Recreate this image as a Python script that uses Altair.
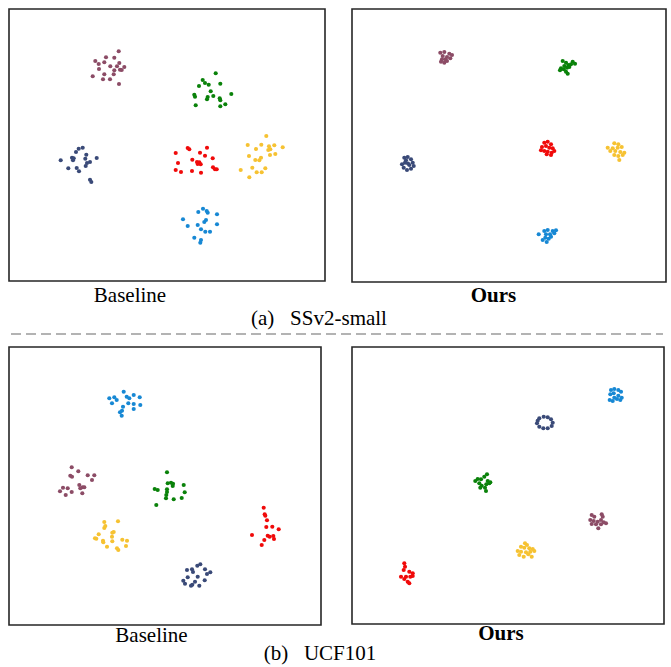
import altair as alt
import pandas as pd

# ---------------- data (t-SNE style embeddings) ----------------
CLASSES = ["class 1", "class 2", "class 3", "class 4", "class 5", "class 6"]
COLORS = ["#8c4c66", "#0a820a", "#3a4a78", "#f00a0a", "#f6c232", "#1788d4"]

panel_titles = ["Baseline", "Ours", "Baseline", "Ours"]
captions = ["(a)\u00a0\u00a0\u00a0SSv2-small", "(b)\u00a0\u00a0\u00a0UCF101"]

ssv2_baseline = {
    "class 1": [(117.7, 50.3), (105, 56.3), (113.3, 56.7), (94.3, 60), (97.7, 63), (103.3, 61.3),
                (118.3, 62), (109.3, 65.3), (116, 65.3), (123.3, 66), (98, 68), (113.3, 69.3),
                (119, 68.7), (120.7, 69), (103.3, 73.3), (112.7, 73.3), (91.7, 75.3), (102, 78.3),
                (109, 78.3), (118, 83)],
    "class 2": [(214.7, 72.3), (201.7, 79), (204, 82), (207.7, 83.7), (219.3, 82.7), (198, 85),
                (209.7, 90.3), (193.3, 93.7), (194, 95.7), (206.7, 96), (212.3, 95), (206, 98.3),
                (218.7, 97.3), (219.3, 99.3), (230.3, 93), (194.7, 104.3), (224.3, 103.3), (219.3, 105.3)],
    "class 3": [(81.7, 146.7), (77.7, 147.7), (75, 151), (85.3, 153.7), (71, 156.7), (72.7, 157.3),
                (95.7, 157), (59.7, 159.3), (72, 159.3), (84.3, 157.7), (89, 161), (86, 162),
                (67.3, 167.3), (75.7, 167), (84.7, 165), (78, 170.3), (89, 178.7), (90.3, 181)],
    "class 4": [(186.7, 147), (188.3, 148.3), (206, 146.7), (174.7, 152), (199, 151.7), (204, 154.7),
                (191.3, 158.7), (196, 161), (198.3, 161.3), (211.7, 157.3), (177, 162), (196.7, 163),
                (199.7, 163.3), (174.7, 169), (180, 171), (191, 170), (200, 171.7), (212, 166.3),
                (214, 168.3), (215.7, 168.3)],
    "class 5": [(265.3, 135), (246.7, 144), (260.3, 143.7), (268, 145.3), (273.3, 144.3), (281.7, 146.3),
                (255, 148), (267.3, 149), (269.3, 148.3), (248, 155), (254.3, 159), (260, 156.7),
                (258.3, 159.3), (269, 154), (274.3, 153), (239.7, 169), (251.3, 166.7), (264.3, 167.3),
                (255.7, 171.3), (260.7, 171.3), (248.3, 176.3)],
    "class 6": [(197.3, 211), (202, 207.7), (205.7, 210), (206.7, 211.7), (216, 213.3), (182, 218.3),
                (205, 219), (203.3, 221), (186.7, 225), (196.7, 224), (216, 223.3), (200, 228.3),
                (204.3, 230.7), (209, 230.7), (193.3, 236.7), (200, 239), (199.3, 241.7)],
}

ssv2_ours = {
    "class 1": [(439.3, 51.7), (443.3, 51), (448.3, 52.7), (451, 54), (441.7, 55), (446, 56),
                (441, 58.3), (444.3, 58.3), (449.3, 57.3), (440, 60.7), (443.3, 61.7), (446, 60)],
    "class 2": [(561.7, 60), (565, 61.7), (571.7, 60.7), (574, 62.7), (563.3, 65), (567.3, 64),
                (570, 63.3), (560, 67.3), (562.7, 68.3), (566, 66.7), (568.3, 66), (565, 70.7),
                (566.7, 72.7), (559, 69.3)],
    "class 3": [(403.3, 156.7), (406.7, 156), (410, 158.3), (411.7, 161.7), (412.7, 165), (410, 167.7),
                (406, 169), (402.7, 166.7), (401, 163.3), (404, 161.7), (408.3, 164), (405, 159.3),
                (407, 162.5)],
    "class 4": [(543.3, 141.7), (546.7, 140.7), (550, 143.3), (541, 146), (545, 145), (548.3, 146.7),
                (551.7, 147.3), (540, 149.3), (543.3, 150), (546.7, 150.7), (550.7, 151.7), (553.3, 150),
                (545.7, 153.3), (550, 154)],
    "class 5": [(613.3, 142.3), (617.3, 143.3), (606.7, 146.7), (611.7, 147.3), (616.7, 146.7),
                (620.7, 146), (609.3, 150), (614.3, 150), (619.3, 151), (623.3, 151.7), (613.3, 154),
                (617.3, 155), (621.7, 154), (618.3, 159)],
    "class 6": [(537.7, 233.3), (543.3, 230), (546.7, 229), (551.7, 230), (555, 229.3), (545, 233.3),
                (549, 233.3), (553.3, 232.3), (544.3, 236.7), (547.7, 237.7), (541.7, 239), (545.7, 241),
                (550, 235.7)],
}

ucf_baseline = {
    "class 6": [(122.7, 391.7), (108.3, 398.3), (113.3, 397.3), (115.7, 400), (111, 403.3), (125.7, 396.7),
                (128.3, 398.3), (132.7, 395), (138.7, 397.3), (127.3, 403.3), (132.7, 404), (139.3, 405),
                (122, 406.7), (132.7, 409), (121, 410.7), (119, 412.3), (120.7, 415.7)],
    "class 1": [(70.7, 467.3), (77.3, 471.3), (69.3, 475.7), (71, 476.7), (86.7, 475.3), (93.3, 475.3),
                (91, 480), (78.3, 485), (81.7, 487.3), (83.3, 487.3), (62, 487.7), (66.7, 488.3),
                (79.3, 488.3), (59, 491.3), (70.7, 492), (81.3, 493.3), (64.7, 495)],
    "class 2": [(166, 472.3), (166.7, 483.3), (170, 482.7), (172, 483.7), (171.7, 486), (182.7, 485),
                (153.7, 489), (156.7, 490), (166, 489.3), (166, 492), (165.3, 495), (183.7, 492.3),
                (165, 498.3), (172.7, 499.3), (180.7, 498), (155.3, 505)],
    "class 4": [(262.7, 507.7), (263.7, 514.3), (264.3, 515.7), (266, 520.3), (265.3, 527), (271.3, 526.7),
                (277.7, 529.3), (251, 535), (266.7, 535.7), (268.7, 536.7), (272.3, 536), (273, 539),
                (263.3, 540), (260.7, 545)],
    "class 5": [(117, 521.3), (103.3, 522), (104.3, 526), (103.3, 528), (112.7, 532), (111.3, 532.7),
                (97.7, 534.3), (94, 538.3), (95.3, 538.7), (111, 536.7), (102, 540.7), (102.3, 542.3),
                (111.3, 541.3), (121.3, 539.7), (126, 540.7), (106, 546.7), (116, 548.3), (117.3, 550),
                (125, 546)],
    "class 3": [(199.3, 564.3), (196.3, 565.7), (204, 569.3), (186, 570), (191, 569.3), (192, 572),
                (209.3, 572.3), (206, 574), (186.7, 577.3), (196.7, 576.7), (182.3, 580.7), (194, 581.7),
                (203.7, 580.3), (184, 583.7), (190, 585.7), (191.3, 584.7), (198.3, 585.7)],
}

ucf_ours = {
    "class 6": [(610, 390), (613.3, 389), (617.3, 390), (620, 391.7), (609.3, 394.3), (612.7, 393.3),
                (617.3, 395.7), (620.7, 397.7), (608.7, 400), (611.7, 401), (616, 399), (619.3, 400),
                (613.3, 397.7)],
    "class 3": [(538.3, 418.3), (542.7, 416.7), (546.7, 417.3), (550, 419.3), (551.7, 422.7), (550.7, 426),
                (546.7, 428.3), (542.3, 428.3), (538.3, 426.7), (536, 423.3), (536.7, 420.7)],
    "class 2": [(486, 474.3), (483.3, 476.7), (476.7, 479), (480, 479.3), (474.3, 481), (478.3, 483.3),
                (486.7, 481), (489.3, 482.3), (485.3, 484.3), (480.7, 485.7), (479.3, 487.7), (484, 487.7),
                (485, 491), (488.3, 483.3)],
    "class 1": [(590.7, 515), (593.3, 516.7), (600.7, 514.3), (601.7, 516.7), (589.3, 520), (592.7, 521),
                (596.7, 521.7), (600, 520), (602.7, 522.3), (605, 523.3), (590.7, 524), (595, 524.3),
                (600, 524.3), (597.3, 528.3)],
    "class 5": [(524, 543.3), (526, 545), (520, 546.7), (523.3, 547.7), (528.3, 548.3), (531.7, 549),
                (516.7, 551), (520, 551.7), (525, 552.3), (529.3, 551.7), (533.3, 551), (518.3, 555),
                (522.7, 556.7), (530.7, 556.7), (527.3, 554.3)],
    "class 4": [(403.3, 563.3), (404, 566.7), (402.7, 570), (408.3, 571.7), (411.7, 573.3), (400, 576.7),
                (405, 576.7), (409.3, 576.7), (411.7, 576), (403.3, 579), (406.7, 581.7), (408.3, 583.3)],
}

# embedding extents of each panel (x range, y range)
extents = [
    ((8, 324), (8, 280)),
    ((351, 665), (8, 281)),
    ((8, 320), (347, 625)),
    ((351, 663), (347, 624)),
]

FONT = "Liberation Serif"


def label(text, x, y, bold=False):
    df = pd.DataFrame({"t": [text]})
    return alt.Chart(df).mark_text(
        font=FONT, fontSize=21, color="black", align="center", baseline="alphabetic",
        fontWeight="bold" if bold else "normal",
    ).encode(text="t:N", x=alt.value(x), y=alt.value(y))


def panel(points, ext, extra=()):
    rows = [{"x": x, "y": y, "cls": c} for c, pts in points.items() for (x, y) in pts]
    df = pd.DataFrame(rows)
    (x0, x1), (y0, y1) = ext
    pts_chart = (
        alt.Chart(df)
        .mark_circle(size=17, opacity=1)
        .encode(
            x=alt.X("x:Q", scale=alt.Scale(domain=[x0, x1], nice=False, zero=False), axis=None),
            y=alt.Y("y:Q", scale=alt.Scale(domain=[y0, y1], nice=False, zero=False, reverse=True), axis=None),
            color=alt.Color("cls:N", scale=alt.Scale(domain=CLASSES, range=COLORS), legend=None),
        )
    )
    return alt.layer(pts_chart, *extra).properties(
        width=x1 - x0, height=y1 - y0,
        view=alt.ViewBackground(stroke="#262626", strokeWidth=1.6),
    )


p1 = panel(ssv2_baseline, extents[0])
p2 = panel(ssv2_ours, extents[1])
# lower panels carry their own labels and the (b) caption underneath the frame
p3 = panel(ucf_baseline, extents[2], [
    label(panel_titles[2], 142.5, 295),
    label(captions[1], 311, 313),
])
p4 = panel(ucf_ours, extents[3], [
    label(panel_titles[3], 149, 293, bold=True),
])

row1 = alt.hconcat(p1, p2, spacing=27, bounds="flush")
row2 = alt.hconcat(p3, p4, spacing=31, bounds="flush")

rule_df = pd.DataFrame({"t": [""]})

divider = alt.layer(
    label(panel_titles[0], 121, 18),
    label(panel_titles[1], 484.5, 18, bold=True),
    label(captions[0], 310, 41),
    alt.Chart(rule_df).mark_rule(color="#9a9a9a", strokeWidth=1.4, strokeDash=[10, 5])
    .encode(x=alt.value(2), x2=alt.value(654), y=alt.value(50)),
).properties(width=656, height=61)

chart = (
    alt.vconcat(row1, divider, row2, spacing=0)
    .properties(padding={"left": 8, "top": 8, "right": 0, "bottom": 0}, background="white")
    .configure_view(stroke="transparent")
)

chart.save("out.html", embed_options={"renderer": "svg", "actions": False})
